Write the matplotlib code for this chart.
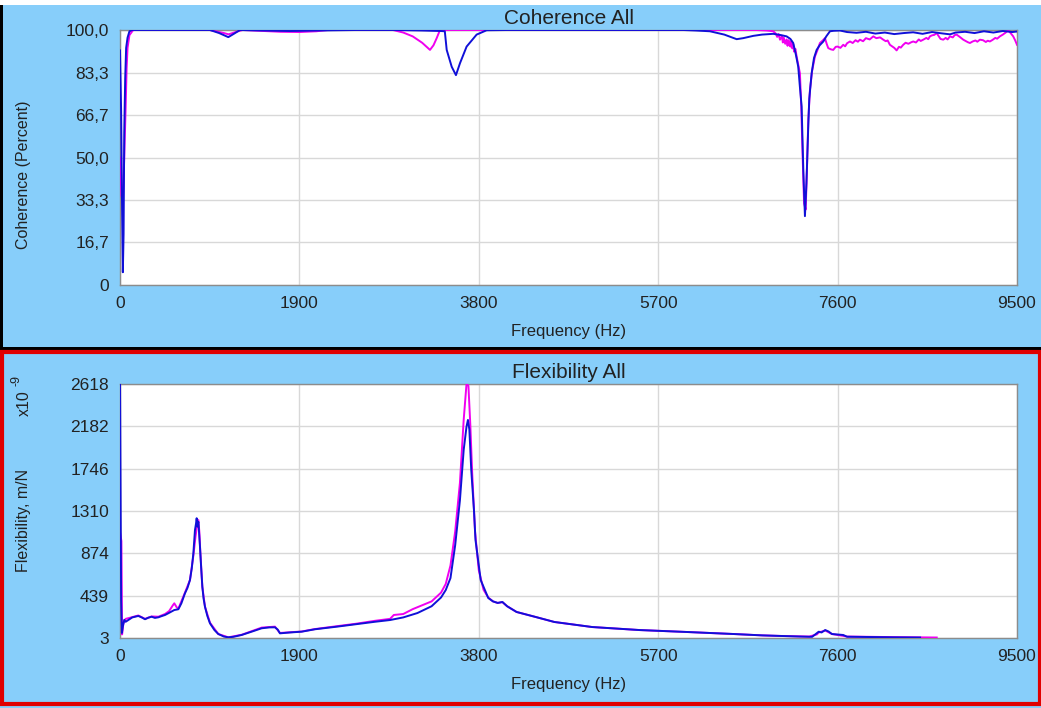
import matplotlib
matplotlib.use("Agg")
import matplotlib.pyplot as plt
from matplotlib.patches import Rectangle

plt.rcParams['font.family'] = ['Liberation Sans', 'DejaVu Sans']

# ---------------- data ----------------
x_ticks = [0, 1900, 3800, 5700, 7600, 9500]
coh_ticks = [0, 16.7, 33.3, 50.0, 66.7, 83.3, 100.0]
coh_tick_labels = ["0", "16,7", "33,3", "50,0", "66,7", "83,3", "100,0"]
flex_ticks = [3, 439, 874, 1310, 1746, 2182, 2618]
flex_tick_labels = ["3", "439", "874", "1310", "1746", "2182", "2618"]

coh_blue_f = [0, 12, 22, 30, 38, 45, 55, 65, 80, 100, 130, 400, 700, 953, 1050, 1147,
              1210, 1271, 1500, 1800, 2100, 2500, 2900, 3200, 3400, 3440, 3460, 3513,
              3558, 3601, 3671, 3777, 3883, 4100, 4500, 5000, 5500, 5966, 6100, 6248,
              6400, 6531, 6600, 6707, 6800, 6919, 7000, 7060, 7100, 7130, 7160, 7183,
              7200, 7219, 7237, 7254, 7270, 7290, 7300, 7325, 7350, 7378, 7410, 7449,
              7480, 7519, 7560, 7625, 7700, 7800, 7900, 8000, 8100, 8200, 8300, 8400,
              8500, 8600, 8700, 8790, 8850, 8950, 9050, 9150, 9250, 9350, 9450, 9500]
coh_blue_v = [92, 68, 30, 5, 20, 60, 81, 93, 97, 99.5, 100, 100, 100, 100, 98.8, 97.2,
              98.6, 100, 99.8, 99.6, 99.8, 100, 100, 99.8, 99.6, 99.5, 92.2, 85.6,
              82.3, 87.0, 93.5, 98.2, 99.9, 100, 100, 100, 100, 100, 99.8, 99.5,
              98.2, 96.4, 96.8, 97.7, 98.2, 98.5, 98.0, 97.5, 96.5, 94.9, 90.0, 85.6,
              78, 70, 45, 27, 40, 63, 73, 83, 89, 92.2, 94.0, 95.5,
              97.5, 99.5, 99.7, 99.8, 99.2, 98.9, 99.3, 98.6, 99.0, 98.4, 98.8, 99.1,
              98.5, 99.2, 98.7, 98.3, 99.0, 99.3, 98.8, 99.5, 99.0, 99.6, 99.2, 99.4]

coh_mag_f = [0, 15, 30, 45, 60, 70, 80, 100, 140, 700, 950, 1100, 1150, 1250, 1300,
             1700, 1900, 2080, 2200, 2891, 3000, 3100, 3200, 3283, 3320, 3354, 3389,
             3700, 4500, 5500, 6742, 6850, 6919, 6945, 6960, 6975, 6990, 7010, 7020,
             7030, 7045, 7060, 7070, 7080, 7090, 7100, 7110, 7120, 7130, 7140, 7153,
             7166, 7185, 7201, 7215, 7230, 7245, 7262, 7275, 7290,
             7307, 7330, 7360, 7385, 7413, 7440, 7466, 7485, 7501, 7530, 7554, 7580,
             7600, 7630, 7660, 7680, 7700, 7731, 7760, 7790, 7815, 7836, 7870, 7900,
             7940, 7978, 8010, 8050, 8084, 8110, 8130, 8154, 8180, 8200, 8225, 8250,
             8270, 8295, 8320, 8350, 8380, 8401, 8430, 8460, 8480, 8507, 8540, 8560,
             8578, 8600, 8625, 8649, 8670, 8690, 8719, 8745, 8765, 8790, 8820, 8840,
             8860, 8890, 8910, 8931, 8960, 8980, 9002, 9030, 9060, 9080, 9107, 9140,
             9170, 9190, 9213, 9240, 9270, 9290, 9319, 9350, 9380, 9407, 9430, 9460,
             9480, 9500]
coh_mag_v = [50, 35, 33, 50, 70, 85, 93, 98, 100, 100, 100, 98.8, 98.3, 99.5, 100,
             99.3, 99.2, 99.5, 100, 100, 99.0, 97.5, 95.0, 92.2, 94.0, 96.8, 100,
             100, 100, 100, 100, 99.8, 99.5, 98.6, 97.3, 98.4, 96.2, 97.6, 95.1,
             97.0, 94.6, 96.3, 93.8, 96.0, 94.2, 93.5, 95.7, 92.8, 94.4, 91.5, 92.6,
             89.6, 86.0, 83.0, 70, 50, 32, 29.6, 45, 65,
             76.4, 84.0, 89.6, 92.0, 94.9, 95.8, 96.8, 94.5, 92.9, 92.4, 92.2, 93.4,
             93.5, 93.0, 94.2, 93.6, 94.8, 95.5, 94.9, 96.0, 95.4, 96.2, 95.6, 96.8,
             96.3, 97.5, 96.8, 97.1, 96.2, 95.6, 95.9, 94.2, 93.5, 93.0, 92.0, 93.4,
             93.1, 94.2, 95.0, 94.6, 95.2, 95.5, 95.1, 96.3, 95.7, 96.2, 96.9, 96.4,
             97.5, 97.9, 98.1, 98.8, 97.6, 96.5, 96.2, 96.9, 96.3, 97.5, 97.1, 98.0,
             98.2, 97.4, 96.8, 96.2, 95.6, 95.2, 94.9, 95.5, 95.9, 95.4, 96.2, 96.0,
             95.3, 95.8, 95.5, 96.1, 96.9, 96.6, 97.5, 98.2, 99.0, 99.9, 98.9, 97.5,
             96.0, 94.2]

flex_blue_f = [0, 12, 20, 30, 45, 60, 88, 130, 194, 230, 265, 300, 335, 370, 406, 440,
               477, 520, 575, 618, 650, 688, 715, 741, 760, 777, 794, 805, 812, 820,
               830, 840, 847, 860, 872, 885, 900, 925, 953, 1000, 1041, 1100, 1147,
               1200, 1288, 1400, 1500, 1580, 1641, 1670, 1694, 1800, 1924, 2065, 2300,
               2500, 2700, 2860, 3000, 3150, 3300, 3400, 3450, 3500, 3550, 3600, 3640,
               3670, 3685, 3700, 3720, 3750, 3765, 3820, 3900, 3950, 4000, 4050, 4100,
               4200, 4400, 4600, 5000, 5500, 6000, 6500, 6800, 7000, 7200, 7330, 7370,
               7400, 7430, 7469, 7504, 7540, 7660, 7700, 8200, 8474]
flex_blue_v = [2700, 400, 55, 120, 190, 170, 188, 215, 230, 215, 196, 212, 222, 210, 216, 228,
               240, 262, 291, 299, 360, 463, 520, 600, 720, 875, 1115, 1180, 1236, 1150,
               1200, 1050, 943, 720, 531, 410, 325, 230, 154, 85, 44, 18, 10,
               15, 34, 70, 103, 112, 113, 90, 51, 60, 68, 93, 120,
               145, 170, 188, 215, 260, 330, 420, 497, 620, 960, 1420, 1940,
               2180, 2248, 2150, 1733, 1300, 1012, 600, 415, 380, 364, 374, 330,
               271, 220, 168, 116, 85, 65, 44, 30, 24, 18, 15, 45,
               68, 60, 85, 70, 44, 34, 16, 10, 8]

flex_mag_f = [0, 15, 22, 35, 60, 100, 194, 265, 335, 406, 477, 520, 560, 575, 600, 618,
              688, 741, 777, 800, 815, 830, 840, 850, 872, 900, 953, 1041, 1147, 1288,
              1500, 1641, 1694, 1924, 2065, 2300, 2500, 2700, 2860, 2900, 3000, 3100,
              3200, 3300, 3400, 3450, 3500, 3550, 3600, 3640, 3670, 3690, 3710, 3730,
              3760, 3800, 3850, 3900, 3950, 4000, 4050, 4100, 4200, 4400, 4600, 5000,
              5500, 6000, 6500, 6800, 7000, 7300, 7380, 7400, 7469, 7540, 7700, 8200,
              8650]
flex_mag_v = [1095, 1000, 40, 150, 200, 210, 235, 200, 225, 222, 250, 280, 340, 360, 320, 305,
              470, 600, 850, 1050, 1150, 1218, 1100, 900, 531, 325, 160, 44, 10, 36,
              110, 120, 55, 70, 95, 125, 150, 180, 200, 240, 250, 300,
              340, 380, 470, 560, 750, 1100, 1600, 2250, 2620, 2600, 2200, 1700,
              1100, 700, 500, 420, 380, 364, 372, 330, 271, 220, 168, 116,
              85, 65, 44, 30, 24, 18, 40, 60, 80, 44, 18, 12,
              8]

# ---------------- figure ----------------
W, H = 1041, 708
BG = '#87CEFA'
BLUE = '#1010D8'
MAG = '#F000F0'
TXT = '#222222'
fig = plt.figure(figsize=(W / 100, H / 100), dpi=100, facecolor=BG)


def fx(x):
    return x / W


def fy(y):
    return 1 - y / H


def rect_px(x0, y0, x1, y1, **kw):
    fig.add_artist(Rectangle((fx(x0), fy(y1)), fx(x1) - fx(x0), fy(y0) - fy(y1),
                             transform=fig.transFigure, **kw))


# decorations: white top strip, black frame of upper panel, red frame of lower panel
rect_px(0, 0, W, 5, facecolor='white', edgecolor='none', zorder=0)
rect_px(0, 5, 3, 350, facecolor='black', edgecolor='none', zorder=0)
rect_px(0, 347, W, 350, facecolor='black', edgecolor='none', zorder=0)
rect_px(1.5, 351.5, W - 1.5, 704, facecolor='none', edgecolor='#E00000', lw=3, zorder=0)

L, R = 120, 1017


def make_axes(top, bottom):
    return fig.add_axes([fx(L), fy(bottom), fx(R) - fx(L), fy(top) - fy(bottom)])


def style(ax, yticks, ylabels, ylim):
    ax.set_facecolor('white')
    ax.set_xlim(0, 9500)
    ax.set_ylim(*ylim)
    ax.set_xticks(x_ticks)
    ax.set_xticklabels([str(t) for t in x_ticks])
    ax.set_yticks(yticks)
    ax.set_yticklabels(ylabels)
    ax.grid(True, color='#D8D8D8', lw=1)
    ax.set_axisbelow(True)
    ax.tick_params(length=0, labelsize=12.5, colors=TXT, pad=8)
    for s in ax.spines.values():
        s.set_color('#8C8C8C')
        s.set_linewidth(1)
    ax.set_xlabel('Frequency (Hz)', fontsize=12, color=TXT, labelpad=9)


ax1 = make_axes(30, 285)
ax1.plot(coh_mag_f, coh_mag_v, color=MAG, lw=1.4, zorder=3)
ax1.plot(coh_blue_f, coh_blue_v, color=BLUE, lw=1.4, zorder=4)
style(ax1, coh_ticks, coh_tick_labels, (0, 100))
ax1.set_title('Coherence All', fontsize=15, color=TXT, pad=4)
fig.text(fx(24), fy(175), 'Coherence (Percent)', rotation=90, ha='center', va='center',
         fontsize=11.5, color=TXT)

ax2 = make_axes(384, 638)
ax2.plot(flex_mag_f, flex_mag_v, color=MAG, lw=1.4, zorder=3)
ax2.plot(flex_blue_f, flex_blue_v, color=BLUE, lw=1.4, zorder=4)
style(ax2, flex_ticks, flex_tick_labels, (3, 2618))
ax2.set_title('Flexibility All', fontsize=15, color=TXT, pad=4)
fig.text(fx(24), fy(520), 'Flexibility, m/N', rotation=90, ha='center', va='center',
         fontsize=11.5, color=TXT)
# "x10" with raised "-9" (rotated: raised = toward the left)
fig.text(fx(24), fy(403), 'x10', rotation=90, ha='center', va='center',
         fontsize=11.5, color=TXT)
fig.text(fx(17), fy(381), '-9', rotation=90, ha='center', va='center',
         fontsize=9, color=TXT)

fig.savefig('out.png', dpi=100, facecolor=BG)
